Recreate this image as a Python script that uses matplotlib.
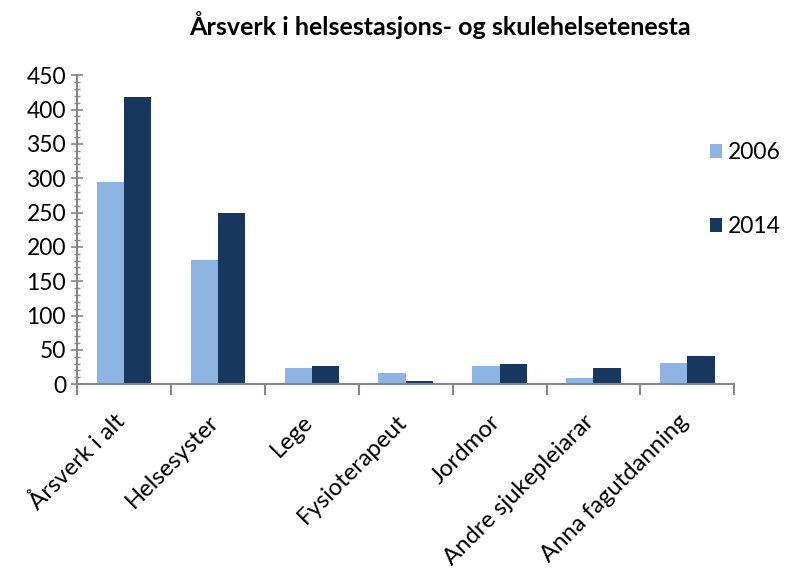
import matplotlib.pyplot as plt
import matplotlib.transforms as mtransforms
import numpy as np
from matplotlib.ticker import MultipleLocator

# data
kategoriar = ["Årsverk i alt", "Helsesyster", "Lege", "Fysioterapeut",
              "Jordmor", "Andre sjukepleiarar", "Anna fagutdanning"]
aar_2006 = [295, 181, 23, 16, 26, 9, 31]
aar_2014 = [419, 250, 27, 5, 29, 23, 41]
tittel = "Årsverk i helsestasjons- og skulehelsetenesta"

plt.rcParams['font.family'] = ['Lato', 'DejaVu Sans']

fig = plt.figure(figsize=(7.87, 5.70), dpi=100)
ax = fig.add_axes([0.098, 0.326, 0.835, 0.542])

x = np.arange(len(kategoriar))
w = 0.29
ax.bar(x - w / 2, aar_2006, w, color="#8EB4E3", label="2006")
ax.bar(x + w / 2, aar_2014, w, color="#17375E", label="2014")

ax.set_xlim(-0.5, len(kategoriar) - 0.5)
ax.set_ylim(0, 450)
ax.yaxis.set_major_locator(MultipleLocator(50))
ax.yaxis.set_minor_locator(MultipleLocator(10))

grey = "#868686"
for s in ["top", "right"]:
    ax.spines[s].set_visible(False)
for s in ["left", "bottom"]:
    ax.spines[s].set_color(grey)
    ax.spines[s].set_linewidth(1.5)

ax.tick_params(axis="y", which="major", direction="inout", length=8, width=1.2,
               color=grey, labelsize=16.5, pad=4)
ax.tick_params(axis="y", which="minor", direction="inout", length=5, width=1.0,
               color=grey)

# category ticks sit between the groups
ax.set_xticks(np.arange(len(kategoriar) + 1) - 0.5, minor=False)
ax.set_xticklabels([])
ax.tick_params(axis="x", which="major", direction="out", length=8, width=1.5, color=grey)
ax.set_xticks(x, minor=True)
labels = ax.set_xticklabels(kategoriar, minor=True, rotation=45, ha="right", va="bottom",
                            rotation_mode="anchor", fontsize=17.2)
ax.tick_params(axis="x", which="minor", length=0, pad=30)
shift = mtransforms.ScaledTranslation(0.05, 0, fig.dpi_scale_trans)
for lab in labels:
    lab.set_transform(lab.get_transform() + shift)

fig.text(0.559, 0.956, tittel, ha="center", va="center", fontsize=18, fontweight="bold")

fig.legend(loc="center left", bbox_to_anchor=(0.902, 0.667),
           bbox_transform=fig.transFigure, frameon=False, fontsize=16.5,
           handlelength=0.55, handleheight=0.55, handletextpad=0.25,
           labelspacing=2.3, borderpad=0, borderaxespad=0)

fig.savefig("out.png", dpi=100)
